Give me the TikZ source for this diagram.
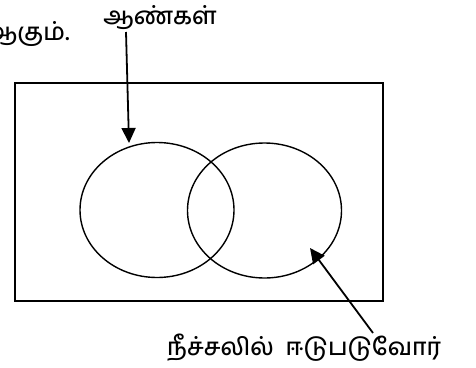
\documentclass[tikz,border=0pt]{standalone}
\usepackage{fontspec}
\newfontfamily\tamilfont[Script=Tamil,UprightFont={* Medium}]{Hind Madurai}
\usetikzlibrary{arrows.meta,shapes.geometric}
\begin{document}
\begin{tikzpicture}[
    x=1pt, y=-1pt,
    settag/.style={font=\tamilfont\fontsize{24}{28}\selectfont, inner sep=0pt},
    setring/.style={draw, ellipse, line width=1.4pt, minimum width=154pt, minimum height=135pt, inner sep=0pt},
    pointer/.style={line width=1.8pt, -{Triangle[length=15pt,width=14pt]}}
]
    \useasboundingbox (0,0) rectangle (476,367);

    % Universal set
    \draw[line width=1.6pt] (15,83) rectangle (383,301);

    % The two sets
    \node[setring] (men) at (157,210) {};
    \node[setring] (swim) at (264.5,210.5) {};

    % Text left over from the line above
    \node[settag, anchor=base east] (tail) at (70,40) {ஆகும்.};

    % Labels
    \node[settag, anchor=base] (mentag) at (160,24) {ஆண்கள்};
    \node[settag, anchor=base] (swimtag) at (304,355) {நீச்சலில்\ \ ஈடுபடுவோர்};

    % Pointers
    \coordinate (mentip) at (129,143);
    \coordinate (swimtip) at (310,248);
    \draw[pointer] (126,32) -- (mentip);
    \draw[pointer] (373,333) -- (swimtip);

\end{tikzpicture}
\end{document}
